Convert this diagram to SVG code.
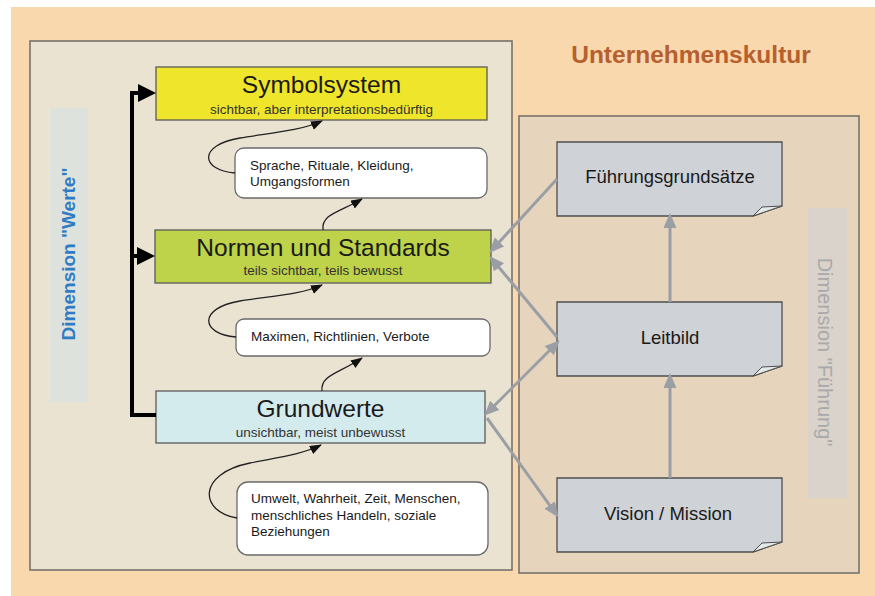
<svg xmlns="http://www.w3.org/2000/svg" width="875" height="596" viewBox="0 0 875 596">
<defs>
<style>
text{font-family:"Liberation Sans",Arial,sans-serif;fill:#1a1a1a}
.head{font-size:24.5px;text-anchor:middle}
.sub{font-size:13.5px;text-anchor:middle;fill:#333}
.note{font-size:13.5px}
.doc{font-size:18.5px;text-anchor:middle}
.panel{stroke:#77726c;stroke-width:1.6}
.lvl{stroke:#5a5a5a;stroke-width:1.3}
.wbox{fill:#fff;stroke:#6a6a6a;stroke-width:1.3}
.docshape{fill:#cfd2d6;stroke:#4e4e4e;stroke-width:1.3}
.fold{fill:#e6e8ea;stroke:#4e4e4e;stroke-width:1}
.curve{fill:none;stroke:#222;stroke-width:1.3;marker-end:url(#blk)}
.grey{fill:none;stroke:#9a9fa5;stroke-width:3}
.bracket{fill:none;stroke:#000;stroke-width:4}
</style>
<marker id="blk" markerUnits="userSpaceOnUse" markerWidth="12" markerHeight="10" refX="11" refY="4.5" orient="auto"><path d="M0,0 L12,4.5 L0,9 z" fill="#111"/></marker>
<marker id="big" markerUnits="userSpaceOnUse" markerWidth="19" markerHeight="19" refX="2" refY="9" orient="auto"><path d="M0,0 L18,9 L0,18 z" fill="#000"/></marker>
<marker id="gry" markerUnits="userSpaceOnUse" markerWidth="16" markerHeight="14" refX="11" refY="6.5" orient="auto-start-reverse"><path d="M0,0 L15,6.5 L0,13 z" fill="#9a9fa5"/></marker>
</defs>
<rect x="0" y="0" width="875" height="596" fill="#ffffff"/>
<rect x="11" y="7" width="864" height="589" fill="#f9d8ae"/>
<text x="691" y="63" style="font-size:24.5px;font-weight:bold;fill:#b6602f;text-anchor:middle">Unternehmenskultur</text>

<g id="panel-werte">
<rect class="panel" x="30" y="41" width="482" height="529" fill="#ebe3d1"/>
<rect x="50" y="108" width="38" height="294" fill="#dde3dc"/>
<text transform="translate(75,254) rotate(-90)" style="font-size:19px;font-weight:bold;fill:#2f7bc6;text-anchor:middle">Dimension "Werte"</text>
</g>
<g id="panel-fuehrung">
<rect class="panel" x="519" y="116" width="340" height="457" fill="#e6d5bc"/>
<rect x="808" y="208" width="39" height="290" fill="#d9d3cb"/>
<text transform="translate(818,352) rotate(90)" style="font-size:20px;fill:#a9a9a9;text-anchor:middle">Dimension "Führung"</text>
</g>

<g id="symbolsystem">
<rect class="lvl" x="156" y="67" width="331" height="53" fill="#efe52b"/>
<text class="head" x="321.5" y="93">Symbolsystem</text>
<text class="sub" x="321.5" y="114">sichtbar, aber interpretationsbedürftig</text>
</g>
<g id="normen">
<rect class="lvl" x="155" y="230" width="336" height="53" fill="#bed24a"/>
<text class="head" x="323" y="256">Normen und Standards</text>
<text class="sub" x="323" y="275">teils sichtbar, teils bewusst</text>
</g>
<g id="grundwerte">
<rect class="lvl" x="156" y="391" width="329" height="52" fill="#d3ebed"/>
<text class="head" x="320.5" y="417">Grundwerte</text>
<text class="sub" x="320.5" y="437">unsichtbar, meist unbewusst</text>
</g>
<g id="note-symbol">
<rect class="wbox" x="235" y="148" width="252" height="50" rx="9"/>
<text class="note" x="250" y="170">Sprache, Rituale, Kleidung,</text>
<text class="note" x="250" y="186">Umgangsformen</text>
</g>
<g id="note-normen">
<rect class="wbox" x="236" y="319" width="254" height="37" rx="8"/>
<text class="note" x="251" y="341">Maximen, Richtlinien, Verbote</text>
</g>
<g id="note-grundwerte">
<rect class="wbox" x="237" y="482" width="251" height="73" rx="11"/>
<text class="note" x="251" y="503">Umwelt, Wahrheit, Zeit, Menschen,</text>
<text class="note" x="251" y="520">menschliches Handeln, soziale</text>
<text class="note" x="251" y="536">Beziehungen</text>
</g>

<g id="fuehrungsgrundsaetze">
<path class="docshape" d="M557,142 H782 V206 L753,216 H557 Z"/>
<path class="fold" d="M753,216 L762,207 L782,206 Z"/>
<text class="doc" x="670" y="183">Führungsgrundsätze</text>
</g>
<g id="leitbild">
<path class="docshape" d="M557,302 H782 V366 L753,376 H557 Z"/>
<path class="fold" d="M753,376 L762,367 L782,366 Z"/>
<text class="doc" x="670" y="344">Leitbild</text>
</g>
<g id="vision">
<path class="docshape" d="M557,478 H782 V542 L753,552 H557 Z"/>
<path class="fold" d="M753,552 L762,543 L782,542 Z"/>
<text class="doc" x="668" y="520">Vision / Mission</text>
</g>

<g id="connectors">
<path class="bracket" d="M156,415 H132 V93 H140" marker-end="url(#big)"/>
<path class="bracket" d="M132,256 H139" marker-end="url(#big)"/>
<path class="curve" d="M235,173 C200,170 198,145 240,138 C270,133 300,131 322,121"/>
<path class="curve" d="M323,230 C321,214 340,212 362,199"/>
<path class="curve" d="M236,337 C200,334 198,308 240,301 C270,296 300,295 322,285"/>
<path class="curve" d="M322,391 C320,375 340,373 362,358"/>
<path class="curve" d="M237,518 C200,512 196,474 250,463 C280,457 303,454 321,445"/>
<path class="grey" d="M557,179 L492,250" marker-end="url(#gry)"/>
<path class="grey" d="M557,337 L492,259" marker-end="url(#gry)"/>
<path class="grey" d="M557,343 L487,413" marker-start="url(#gry)" marker-end="url(#gry)"/>
<path class="grey" d="M487,418 L556,514" marker-end="url(#gry)"/>
<path class="grey" d="M670,302 V217" marker-end="url(#gry)"/>
<path class="grey" d="M670,478 V377" marker-end="url(#gry)"/>
</g>
</svg>
